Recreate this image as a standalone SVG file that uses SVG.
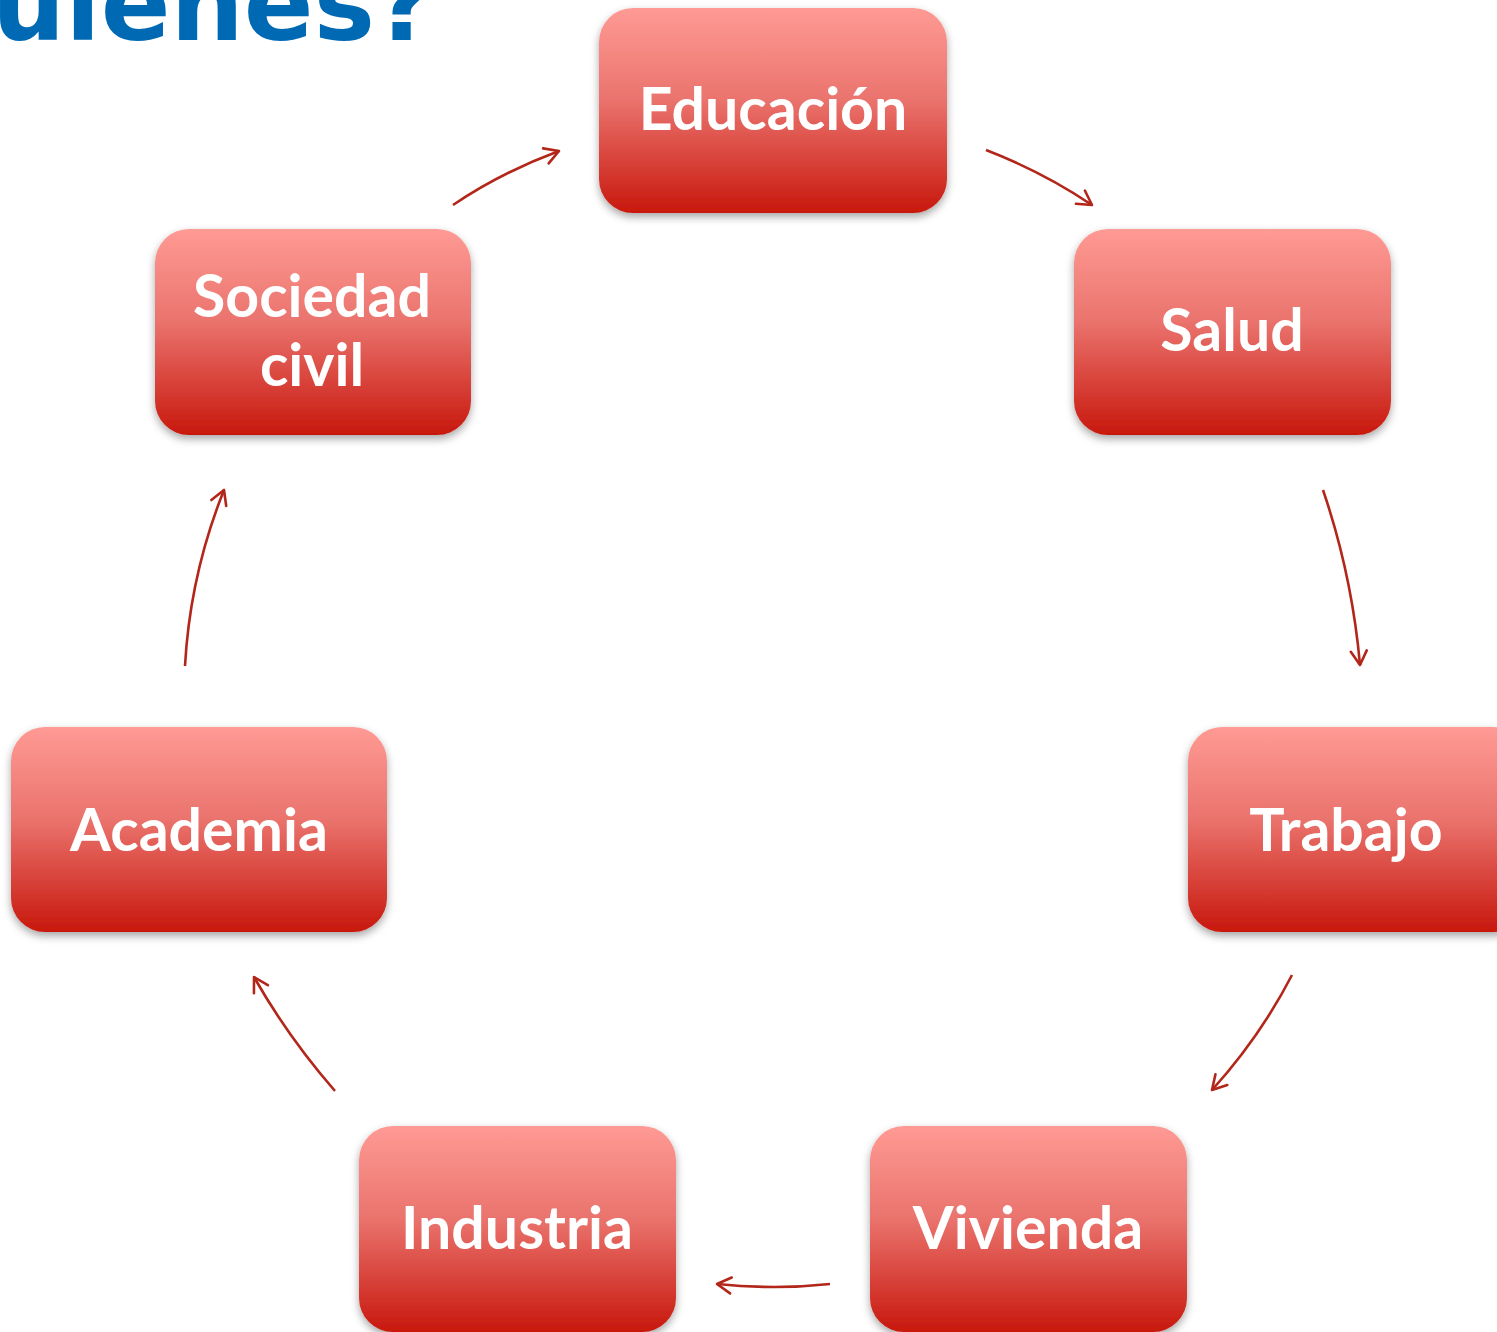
<svg xmlns="http://www.w3.org/2000/svg" width="1497" height="1332" viewBox="0 0 1497 1332">
<style>
.box{fill:url(#g);filter:url(#sh)}
.lbl{font-family:Lato,"Open Sans",sans-serif;font-weight:bold;font-size:59px;fill:#fff;text-anchor:middle}
.con{fill:none;stroke:#B3261A;stroke-width:2.6;marker-end:url(#ah)}
.title{font-family:"DejaVu Sans",Verdana,sans-serif;font-weight:bold;font-size:103px;fill:#0069B4}
</style>
<defs>
<linearGradient id="g" x1="0" y1="0" x2="0" y2="1">
<stop offset="0" stop-color="#FF9A94"/>
<stop offset="0.45" stop-color="#EA736D"/>
<stop offset="1" stop-color="#C8180D"/>
</linearGradient>
<filter id="sh" x="-10%" y="-10%" width="120%" height="130%">
<feDropShadow dx="0" dy="4" stdDeviation="4" flood-color="#000" flood-opacity="0.35"/>
</filter>
<marker id="ah" viewBox="0 0 20 20" refX="18" refY="10" markerWidth="20" markerHeight="20" markerUnits="userSpaceOnUse" orient="auto">
<path d="M4,2 L18,10 L4,18" fill="none" stroke="#B3261A" stroke-width="2.6" stroke-linecap="round" stroke-linejoin="round"/>
</marker>
</defs>
<text class="title" x="-8" y="40">uienes?</text>
<g id="connectors">
<path class="con" d="M453,205 Q500,173 559,151"/>
<path class="con" d="M986,150 Q1043,172 1092,205"/>
<path class="con" d="M1323,490 Q1352,575 1360,665"/>
<path class="con" d="M1292,975 Q1260,1037 1212,1090"/>
<path class="con" d="M830,1284 Q775,1290 717,1284"/>
<path class="con" d="M335,1091 Q288,1037 254,977"/>
<path class="con" d="M185,666 Q190,575 224,490"/>
</g>
<g id="educacion"><rect class="box" x="599" y="8" width="348" height="205" rx="34"/><text class="lbl" x="773" y="130">Educación</text></g>
<g id="salud"><rect class="box" x="1074" y="229" width="317" height="206" rx="34"/><text class="lbl" x="1232" y="351">Salud</text></g>
<g id="trabajo"><rect class="box" x="1188" y="727" width="340" height="205" rx="34"/><text class="lbl" x="1346" y="851">Trabajo</text></g>
<g id="vivienda"><rect class="box" x="870" y="1126" width="317" height="206" rx="34"/><text class="lbl" x="1028" y="1249">Vivienda</text></g>
<g id="industria"><rect class="box" x="359" y="1126" width="317" height="206" rx="34"/><text class="lbl" x="517" y="1249">Industria</text></g>
<g id="academia"><rect class="box" x="11" y="727" width="376" height="205" rx="34"/><text class="lbl" x="199" y="851">Academia</text></g>
<g id="sociedad"><rect class="box" x="155" y="229" width="316" height="206" rx="34"/><text class="lbl" x="312" y="317">Sociedad</text><text class="lbl" x="312" y="386">civil</text></g>
</svg>
